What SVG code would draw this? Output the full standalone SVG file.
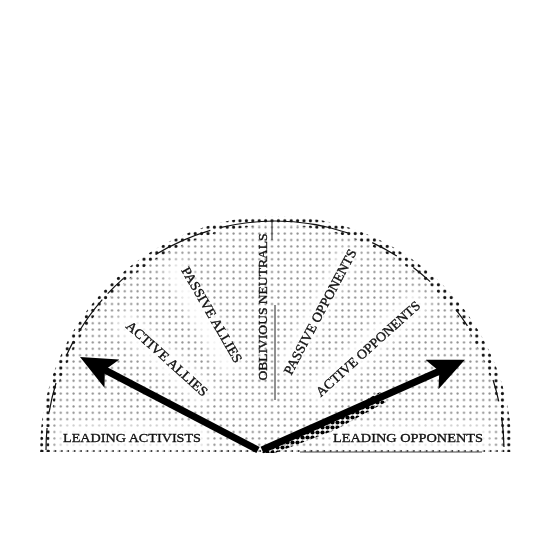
<svg xmlns="http://www.w3.org/2000/svg" width="560" height="557" viewBox="0 0 560 557">
  <style>
    .lbl { font-family: "Liberation Serif", "Times New Roman", serif; font-size: 13.5px; fill: #111; stroke: #111; stroke-width: 0.35; }
    .arc { fill: none; stroke: #111; stroke-width: 1.2; }
    .arrow { stroke: #000; stroke-width: 7; fill: none; }
    .band { fill: #fff; }
  </style>
  <defs>
    <pattern id="dots" x="0" y="0" width="6.4" height="6.4" patternUnits="userSpaceOnUse">
      <circle cx="3.2" cy="3.2" r="1.1" fill="#8a8a8a"/>
    </pattern>
    <pattern id="darkdots" x="0" y="0" width="6.4" height="6.4" patternUnits="userSpaceOnUse">
      <circle cx="3.2" cy="3.2" r="1.5" fill="#111"/>
    </pattern>
    <pattern id="bigdots" x="0" y="0" width="5" height="5" patternUnits="userSpaceOnUse">
      <circle cx="2.5" cy="2.5" r="2.1" fill="#000"/>
    </pattern>
    <filter id="soft" x="-20%" y="-50%" width="140%" height="200%">
      <feGaussianBlur stdDeviation="4"/>
    </filter>
    <marker id="head" viewBox="0 0 36 32" refX="14" refY="16" markerWidth="36" markerHeight="32" markerUnits="userSpaceOnUse" orient="auto">
      <path d="M0,0 L36,16 L0,32 L8,16 Z" fill="#000"/>
    </marker>
  </defs>

  <g id="background">
    <path d="M40 452 A236 236 0 0 1 512 452 Z" fill="url(#dots)"/>
    <path d="M40 452 A236 236 0 0 1 512 452 L503 452 A227 227 0 0 0 49 452 Z" fill="url(#darkdots)"/>
    <g filter="url(#soft)" opacity="0.9">
      <rect class="band" x="-75" y="-13" width="150" height="26" transform="translate(133,437)"/>
      <rect class="band" x="-60" y="-13" width="120" height="26" transform="translate(164,358) rotate(42)"/>
      <rect class="band" x="-62" y="-13" width="124" height="26" transform="translate(204,317) rotate(60)"/>
      <rect class="band" x="-70" y="-11" width="140" height="22" transform="translate(318,312) rotate(-62)"/>
      <rect class="band" x="-75" y="-13" width="150" height="26" transform="translate(367,348) rotate(-42)"/>
      <rect class="band" x="-80" y="-13" width="160" height="26" transform="translate(408,437)"/>
    </g>
    <path class="arc" d="M46 450 A229 229 0 0 1 504 450" stroke-dasharray="22 16 30 30 14 12 40 8 22 40 60 10 130 26 28 20 22 38 20 60"/>
    <line x1="42" y1="451" x2="510" y2="451" stroke="#111" stroke-width="1.3" stroke-dasharray="1.5 4.9"/>
    <line x1="300" y1="452" x2="482" y2="452" stroke="#444" stroke-width="1"/>
    <line x1="272" y1="220" x2="272" y2="240" stroke="#222" stroke-width="1"/>
    <line x1="275" y1="305" x2="275" y2="400" stroke="#222" stroke-width="1"/>
  </g>

  <g id="leading-activists"><text class="lbl" x="63" y="442" textLength="138" lengthAdjust="spacingAndGlyphs">LEADING ACTIVISTS</text></g>
  <g id="active-allies"><text class="lbl" transform="translate(164,362) rotate(42)" text-anchor="middle" textLength="105" lengthAdjust="spacingAndGlyphs">ACTIVE ALLIES</text></g>
  <g id="passive-allies"><text class="lbl" transform="translate(208,317) rotate(60)" text-anchor="middle" textLength="108" lengthAdjust="spacingAndGlyphs">PASSIVE ALLIES</text></g>
  <g id="oblivious-neutrals"><text class="lbl" transform="translate(267,307) rotate(-90)" text-anchor="middle" textLength="147" lengthAdjust="spacingAndGlyphs">OBLIVIOUS NEUTRALS</text></g>
  <g id="passive-opponents"><text class="lbl" transform="translate(324,314) rotate(-62)" text-anchor="middle" textLength="140" lengthAdjust="spacingAndGlyphs">PASSIVE OPPONENTS</text></g>
  <g id="active-opponents"><text class="lbl" transform="translate(371,352) rotate(-42)" text-anchor="middle" textLength="135" lengthAdjust="spacingAndGlyphs">ACTIVE OPPONENTS</text></g>
  <g id="leading-opponents"><text class="lbl" x="333" y="442" textLength="150" lengthAdjust="spacingAndGlyphs">LEADING OPPONENTS</text></g>

  <g id="connectors">
    <path d="M262 453 L268 447 L330 420 L380 392 L386 402 L335 430 L275 453 Z" fill="url(#bigdots)"/>
    <line class="arrow" x1="258" y1="450" x2="99.5" y2="367.1" marker-end="url(#head)"/>
    <line class="arrow" x1="262" y1="450" x2="444.8" y2="368.8" marker-end="url(#head)"/>
  </g>
</svg>
